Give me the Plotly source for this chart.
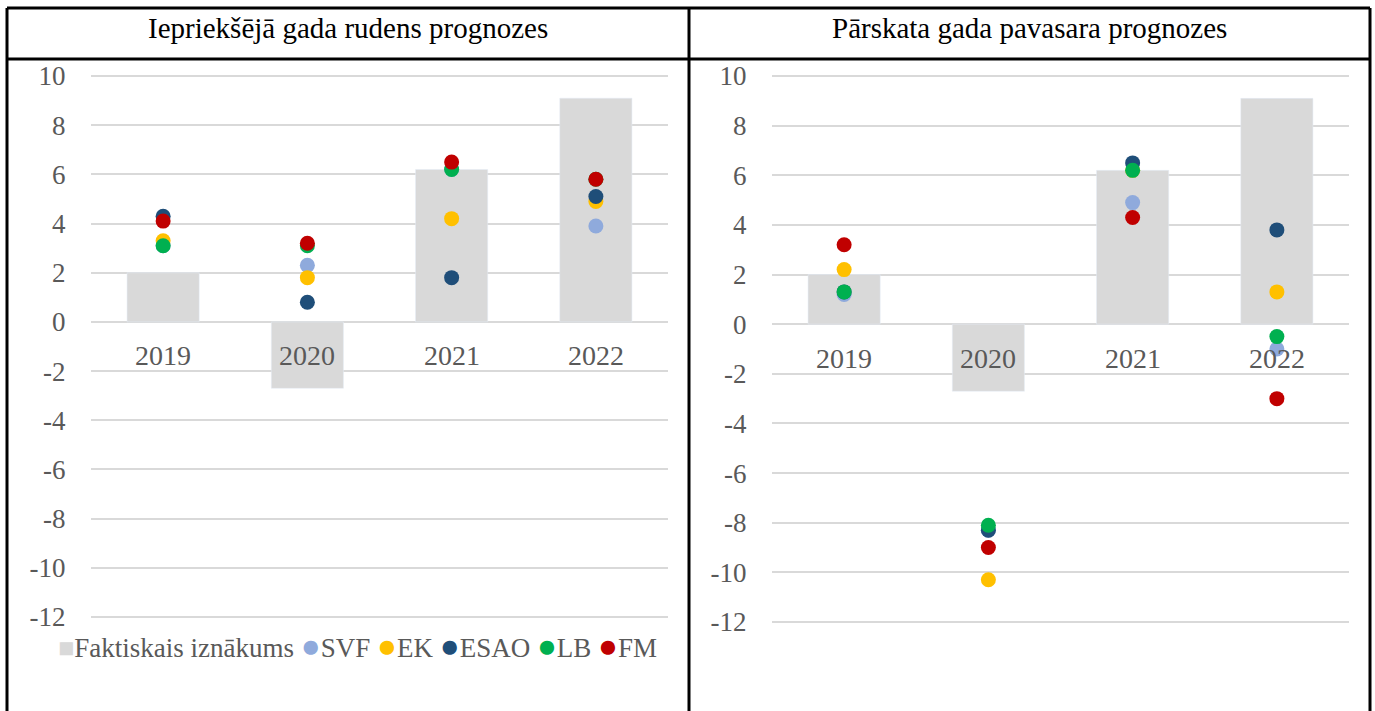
import plotly.graph_objects as go

# ---------------- data ----------------
years = ["2019", "2020", "2021", "2022"]
actual = [2.0, -2.7, 6.2, 9.1]

series_names = ["SVF", "EK", "ESAO", "LB", "FM"]
series_colors = ["#8FAADC", "#FFC000", "#1F4E79", "#00B050", "#C00000"]

# Iepriekšējā gada rudens prognozes
autumn_svf = [3.1, 2.3, 6.2, 3.9]
autumn_ek = [3.3, 1.8, 4.2, 4.9]
autumn_esao = [4.3, 0.8, 1.8, 5.1]
autumn_lb = [3.1, 3.1, 6.2, 5.8]
autumn_fm = [4.1, 3.2, 6.5, 5.8]

# Pārskata gada pavasara prognozes
spring_svf = [1.2, -8.3, 4.9, -1.0]
spring_ek = [2.2, -10.3, 6.2, 1.3]
spring_esao = [1.3, -8.3, 6.5, 3.8]
spring_lb = [1.3, -8.1, 6.2, -0.5]
spring_fm = [3.2, -9.0, 4.3, -3.0]

y_ticks = [10, 8, 6, 4, 2, 0, -2, -4, -6, -8, -10, -12]

titles = ["Iepriekšējā gada rudens prognozes", "Pārskata gada pavasara prognozes"]
actual_name = "Faktiskais iznākums"
bar_color = "#D9D9D9"

panels = [
    [autumn_svf, autumn_ek, autumn_esao, autumn_lb, autumn_fm],
    [spring_svf, spring_ek, spring_esao, spring_lb, spring_fm],
]

# ---------------- layout constants ----------------
W, H = 1375, 711
FONT = "Liberation Serif, Times New Roman, serif"
TXT = "#595959"


def px_x(v):
    return v / W


def px_y(v):
    return 1 - v / H


fig = go.Figure()

axes = [("x", "y"), ("x2", "y2")]
for (xa, ya), vals in zip(axes, panels):
    fig.add_trace(go.Bar(
        x=years, y=actual, name=actual_name, marker_color=bar_color,
        width=0.5, xaxis=xa, yaxis=ya, showlegend=False,
    ))
    for name, color, v in zip(series_names, series_colors, vals):
        fig.add_trace(go.Scatter(
            x=years, y=v, name=name, mode="markers",
            marker=dict(color=color, size=15, line=dict(width=0)),
            xaxis=xa, yaxis=ya, showlegend=False,
        ))

common_x = dict(type="category", categoryorder="array", categoryarray=years,
                range=[-0.5, len(years) - 0.5],
                showgrid=False, zeroline=False, showticklabels=False,
                showline=False, ticks="", fixedrange=True)
common_y = dict(showgrid=True, gridcolor="#D9D9D9", gridwidth=2,
                zeroline=True, zerolinecolor="#D9D9D9", zerolinewidth=2,
                tickmode="array", tickvals=y_ticks,
                ticktext=[str(v) for v in y_ticks], showline=False,
                ticks="outside", ticklen=19, tickcolor="rgba(0,0,0,0)",
                tickfont=dict(family=FONT, size=27, color=TXT))

fig.update_layout(
    width=W, height=H,
    margin=dict(l=0, r=0, t=0, b=0, pad=0, autoexpand=False),
    paper_bgcolor="white", plot_bgcolor="white",
    showlegend=False, barmode="overlay",
    xaxis=dict(domain=[px_x(91), px_x(668)], anchor="y", **common_x),
    yaxis=dict(domain=[px_y(626.8), px_y(66.2)], range=[-12.4, 10.4],
               anchor="x", **common_y),
    xaxis2=dict(domain=[px_x(772), px_x(1349)], anchor="y2", **common_x),
    yaxis2=dict(domain=[px_y(631.9), px_y(66.1)], range=[-12.4, 10.4],
                anchor="x2", **common_y),
)

annotations = []
# category labels sitting just below the zero line
for xa, ya in axes:
    for i, yr in enumerate(years):
        annotations.append(dict(
            x=i, y=0, xref=xa, yref=ya, text=yr, showarrow=False,
            yanchor="middle", yshift=-34,
            font=dict(family=FONT, size=28, color=TXT)))

# panel headers
for cx, t in zip([348.5, 1029.5], titles):
    annotations.append(dict(
        x=px_x(cx), y=px_y(28), xref="paper", yref="paper", text=t,
        showarrow=False, xanchor="center", yanchor="middle",
        font=dict(family=FONT, size=29, color="black")))

# legend (left panel)
legend_text = (f"<span style='color:{bar_color};font-size:27px'>■</span>{actual_name}"
               + "".join(f" <span style='color:{c};font-size:33px'>●</span>{n}"
                         for n, c in zip(series_names, series_colors)))
annotations.append(dict(
    x=px_x(56), y=px_y(646), xref="paper", yref="paper", text=legend_text,
    showarrow=False, xanchor="left", yanchor="middle",
    font=dict(family=FONT, size=27, color=TXT)))

fig.update_layout(annotations=annotations)

# table frame
lw = 3
shapes = [
    dict(x0=px_x(7), x1=px_x(1370), y0=px_y(8), y1=px_y(8)),
    dict(x0=px_x(7), x1=px_x(1370), y0=px_y(59), y1=px_y(59)),
    dict(x0=px_x(7), x1=px_x(7), y0=px_y(8), y1=0),
    dict(x0=px_x(689), x1=px_x(689), y0=px_y(8), y1=0),
    dict(x0=px_x(1370), x1=px_x(1370), y0=px_y(8), y1=0),
]
for s in shapes:
    s.update(type="line", xref="paper", yref="paper",
             line=dict(color="black", width=lw), layer="above")
fig.update_layout(shapes=shapes)

fig.write_html(
    "out.html",
    config={"displayModeBar": False},
    post_script="document.body.style.margin='0';document.body.style.overflow='hidden';",
)
